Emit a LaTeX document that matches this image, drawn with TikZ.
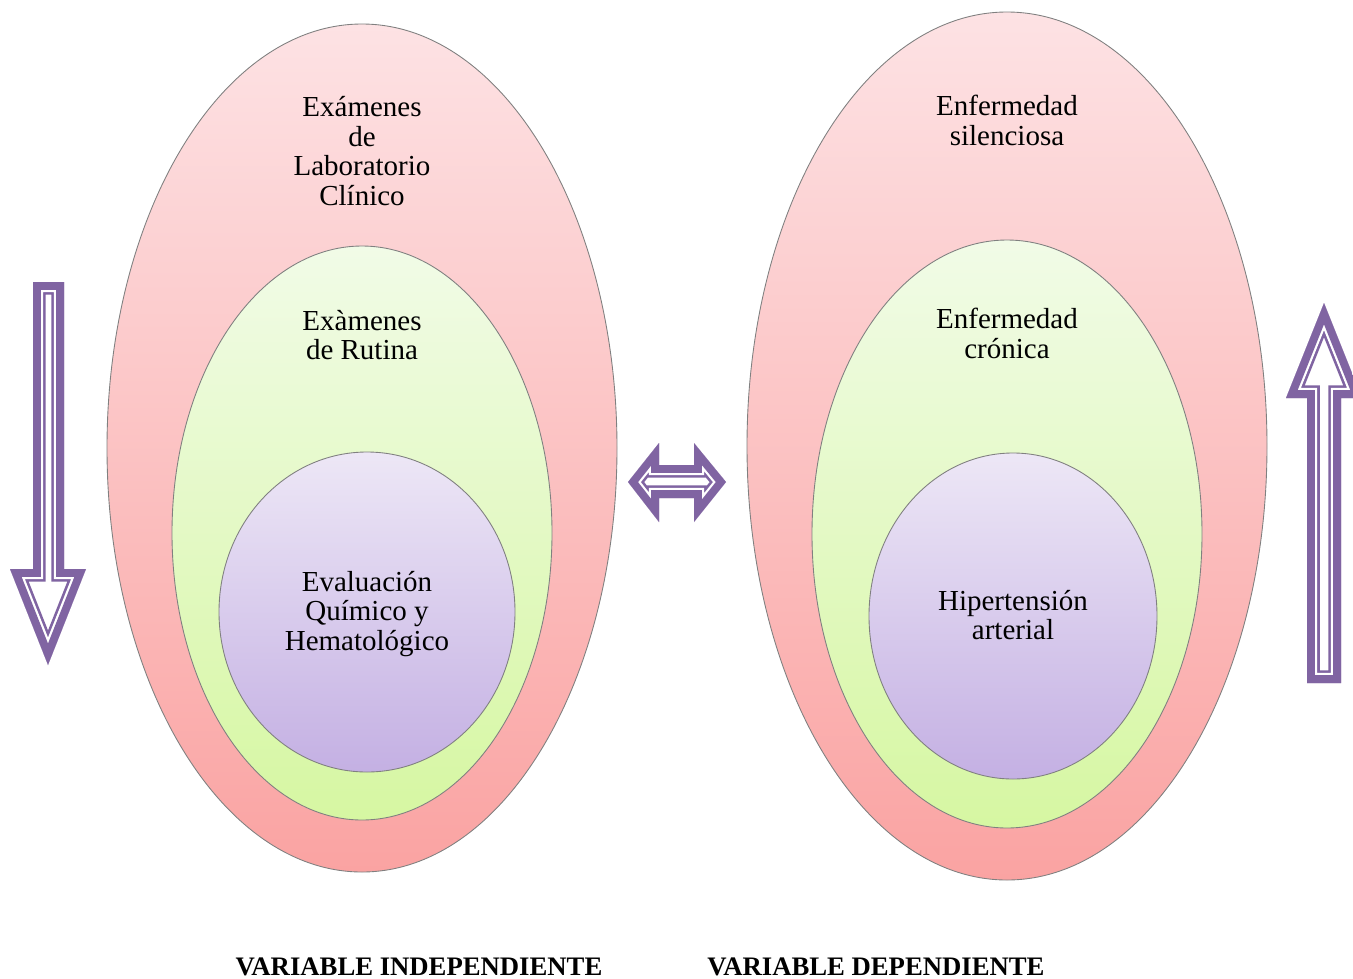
\documentclass[tikz,border=0pt]{standalone}
\usepackage{fontspec}
\setmainfont{Liberation Serif}

\definecolor{arrowpurple}{HTML}{8064A2}
\definecolor{pinktop}{HTML}{FDE2E4}
\definecolor{pinkbot}{HTML}{FAA3A2}
\definecolor{greentop}{HTML}{F1FBE7}
\definecolor{greenbot}{HTML}{D6F7A2}
\definecolor{lilactop}{HTML}{EDE7F6}
\definecolor{lilacbot}{HTML}{C4B0E3}

% hollow arrow: purple band, white line, thin purple line, white core
\newcommand{\hollowarrow}[1]{%
  \begin{scope}
    \clip #1;
    \fill[white] #1;
    \draw[arrowpurple, line width=14.5pt, line join=miter, miter limit=20] #1;
    \draw[white, line width=11.5pt, line join=miter, miter limit=20] #1;
    \draw[arrowpurple, line width=9pt, line join=miter, miter limit=20] #1;
  \end{scope}}

\begin{document}
\begin{tikzpicture}[
  x=0.02cm, y=-0.02cm,
  font=\fontsize{16.5}{17}\selectfont,
  outer/.style={draw=black!50, line width=0.5pt, top color=pinktop, bottom color=pinkbot},
  middle/.style={draw=black!50, line width=0.5pt, top color=greentop, bottom color=greenbot},
  inner/.style={draw=black!50, line width=0.5pt, top color=lilactop, bottom color=lilacbot},
  txt/.style={align=center, inner sep=0pt},
  varlbl/.style={anchor=base, inner sep=0pt, font=\fontsize{15.2}{17}\selectfont\bfseries},
]
\useasboundingbox (0,0) rectangle (1353,978);

% left target
\shade[outer]  (362,448) ellipse [x radius=255, y radius=424];
\shade[middle] (362,533) ellipse [x radius=190, y radius=287];
\shade[inner]  (367,612) ellipse [x radius=148, y radius=160];

% right target
\shade[outer]  (1007,446) ellipse [x radius=260, y radius=434];
\shade[middle] (1007,534) ellipse [x radius=195, y radius=294];
\shade[inner]  (1013,616) ellipse [x radius=144, y radius=163];

\node[txt] (lab)   at (362,151) {Exámenes\\de\\Laboratorio\\Clínico};
\node[txt] (rut)   at (362,335) {Exàmenes\\de Rutina};
\node[txt] (quim)  at (367,614) {Evaluación\\Químico y\\Hematológico};
\node[txt] (sil)   at (1007,120) {Enfermedad\\silenciosa};
\node[txt] (cron)  at (1007,333) {Enfermedad\\crónica};
\node[txt] (hta)   at (1013,615) {Hipertensión\\arterial};

% arrows
\hollowarrow{(33,282) -- (64,282) -- (64,569) -- (86,569) -- (48,665) -- (10,569) -- (33,569) -- cycle}
\hollowarrow{(1307,683) -- (1307,398) -- (1286,398) -- (1324,303) -- (1362,398) -- (1341,398) -- (1341,683) -- cycle}
\hollowarrow{(628,482) -- (659,443) -- (659,465) -- (694,465) -- (694,443) -- (726,482) -- (694,522) -- (694,498) -- (659,498) -- (659,522) -- cycle}

\node[varlbl] (indep) at (419,975) {VARIABLE INDEPENDIENTE};
\node[varlbl] (dep)   at (876,975) {VARIABLE DEPENDIENTE};
\end{tikzpicture}
\end{document}
